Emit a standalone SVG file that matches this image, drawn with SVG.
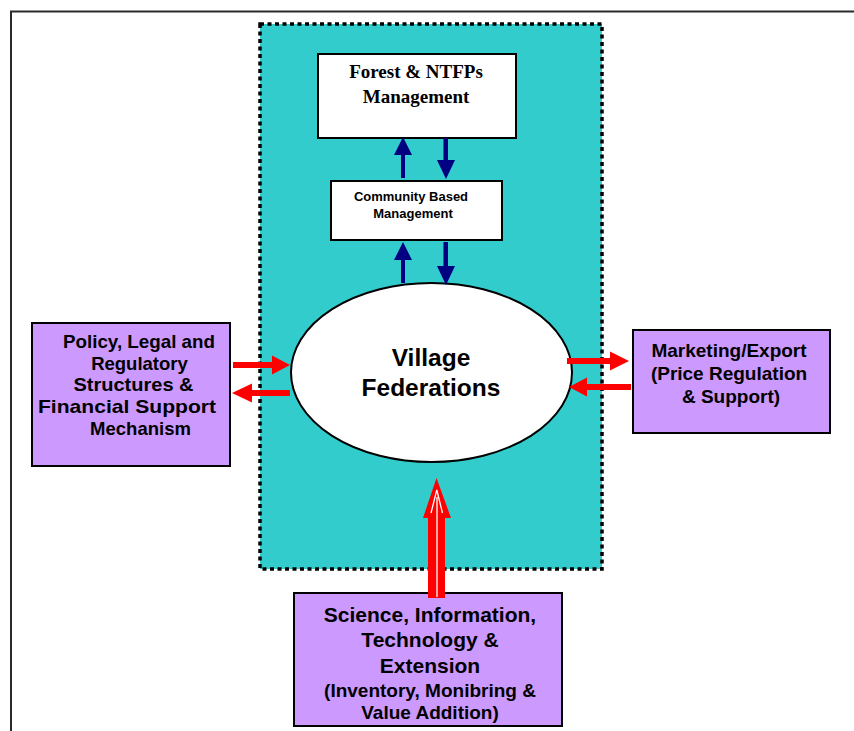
<svg xmlns="http://www.w3.org/2000/svg" width="854" height="731" viewBox="0 0 854 731">
  <defs>
    <style>
      .frame { fill: none; stroke: #2a2a2a; stroke-width: 2; }
      .zone { fill: #33CCCC; stroke: #000; stroke-width: 3.5; stroke-dasharray: 4 3.5; }
      .box { fill: #fff; stroke: #000; stroke-width: 2; }
      .pbox { fill: #CC99FF; stroke: #000; stroke-width: 2; }
      .navy { fill: #000080; }
      .red { fill: #FF0000; }
      .serif { font-family: "Liberation Serif", "Times New Roman", serif; font-weight: bold; fill: #000; text-anchor: middle; }
      .sans { font-family: "Liberation Sans", Arial, sans-serif; font-weight: bold; fill: #000; text-anchor: middle; }
    </style>
  </defs>

  <rect width="854" height="731" fill="#fff"/>

  <!-- page frame -->
  <path class="frame" d="M11,731 L11,11.5 L854,11.5"/>

  <!-- village federation zone -->
  <rect id="zone" class="zone" x="260" y="24" width="342" height="545"/>

  <g id="forest">
    <rect class="box" x="318" y="54" width="198" height="84"/>
    <text class="serif" font-size="19" x="416" y="78">Forest &amp; NTFPs</text>
    <text class="serif" font-size="19" x="416" y="103">Management</text>
  </g>

  <g id="community">
    <rect class="box" x="331" y="181" width="171" height="59"/>
    <text class="sans" font-size="13" x="411" y="201">Community Based</text>
    <text class="sans" font-size="13" x="413" y="218">Management</text>
  </g>

  <g id="village">
    <ellipse cx="431.5" cy="372.5" rx="140.5" ry="89.5" fill="#fff" stroke="#000" stroke-width="2"/>
    <text class="sans" font-size="24.5" x="431" y="366">Village</text>
    <text class="sans" font-size="24.5" x="431" y="396">Federations</text>
  </g>

  <g id="policy">
    <rect class="pbox" x="32" y="323" width="198" height="143"/>
    <text class="sans" font-size="18.5" x="139" y="348" textLength="152" lengthAdjust="spacingAndGlyphs">Policy, Legal and</text>
    <text class="sans" font-size="18.5" x="139.5" y="370">Regulatory</text>
    <text class="sans" font-size="18.5" x="133.5" y="391" textLength="120" lengthAdjust="spacingAndGlyphs">Structures &amp;</text>
    <text class="sans" font-size="18.5" x="127" y="413" textLength="178" lengthAdjust="spacingAndGlyphs">Financial Support</text>
    <text class="sans" font-size="18.5" x="140.5" y="435">Mechanism</text>
  </g>

  <g id="marketing">
    <rect class="pbox" x="633" y="330" width="197" height="103"/>
    <text class="sans" font-size="19" x="729" y="357">Marketing/Export</text>
    <text class="sans" font-size="19" x="729" y="380">(Price Regulation</text>
    <text class="sans" font-size="19" x="731" y="403">&amp; Support)</text>
  </g>

  <g id="science">
    <rect class="pbox" x="294" y="593" width="268" height="133"/>
    <text class="sans" font-size="21" x="430" y="622">Science, Information,</text>
    <text class="sans" font-size="21" x="430" y="647">Technology &amp;</text>
    <text class="sans" font-size="21" x="430" y="673">Extension</text>
    <text class="sans" font-size="19" x="430" y="697">(Inventory, Monibring &amp;</text>
    <text class="sans" font-size="19" x="430" y="719">Value Addition)</text>
  </g>

  <g id="connectors">
    <!-- community -> forest -->
    <polygon class="navy" points="401,178 401,155 394,155 403,137 412,155 405,155 405,178"/>
    <!-- forest -> community -->
    <polygon class="navy" points="443.5,138 443.5,160 437,160 446,179 455,160 448,160 448,138"/>
    <!-- village -> community -->
    <polygon class="navy" points="401,283 401,260 394,260 403,242 412,260 405,260 405,283"/>
    <!-- community -> village -->
    <polygon class="navy" points="443.5,242 443.5,266 437,266 446,285 455,266 448,266 448,242"/>

    <!-- policy -> village -->
    <polygon class="red" points="233,362 272,362 272,355.5 290,365 272,374.5 272,368 233,368"/>
    <!-- village -> policy -->
    <polygon class="red" points="290,390 252,390 252,383.5 232,393 252,402.5 252,396 290,396"/>
    <!-- village -> marketing -->
    <polygon class="red" points="567,358 610,358 610,351.5 629,361 610,370.5 610,364 567,364"/>
    <!-- marketing -> village -->
    <polygon class="red" points="631,384 587,384 587,377.5 569,387 587,396.5 587,390 631,390"/>

    <!-- science -> village -->
    <polygon class="red" points="428,598 428,518 423,518 436.5,478 451,518 445,518 445,598"/>
    <path d="M437,597 L437,497 M431,513 L436.8,490 L442.5,513" fill="none" stroke="#fff" stroke-width="1.3"/>
  </g>
</svg>
